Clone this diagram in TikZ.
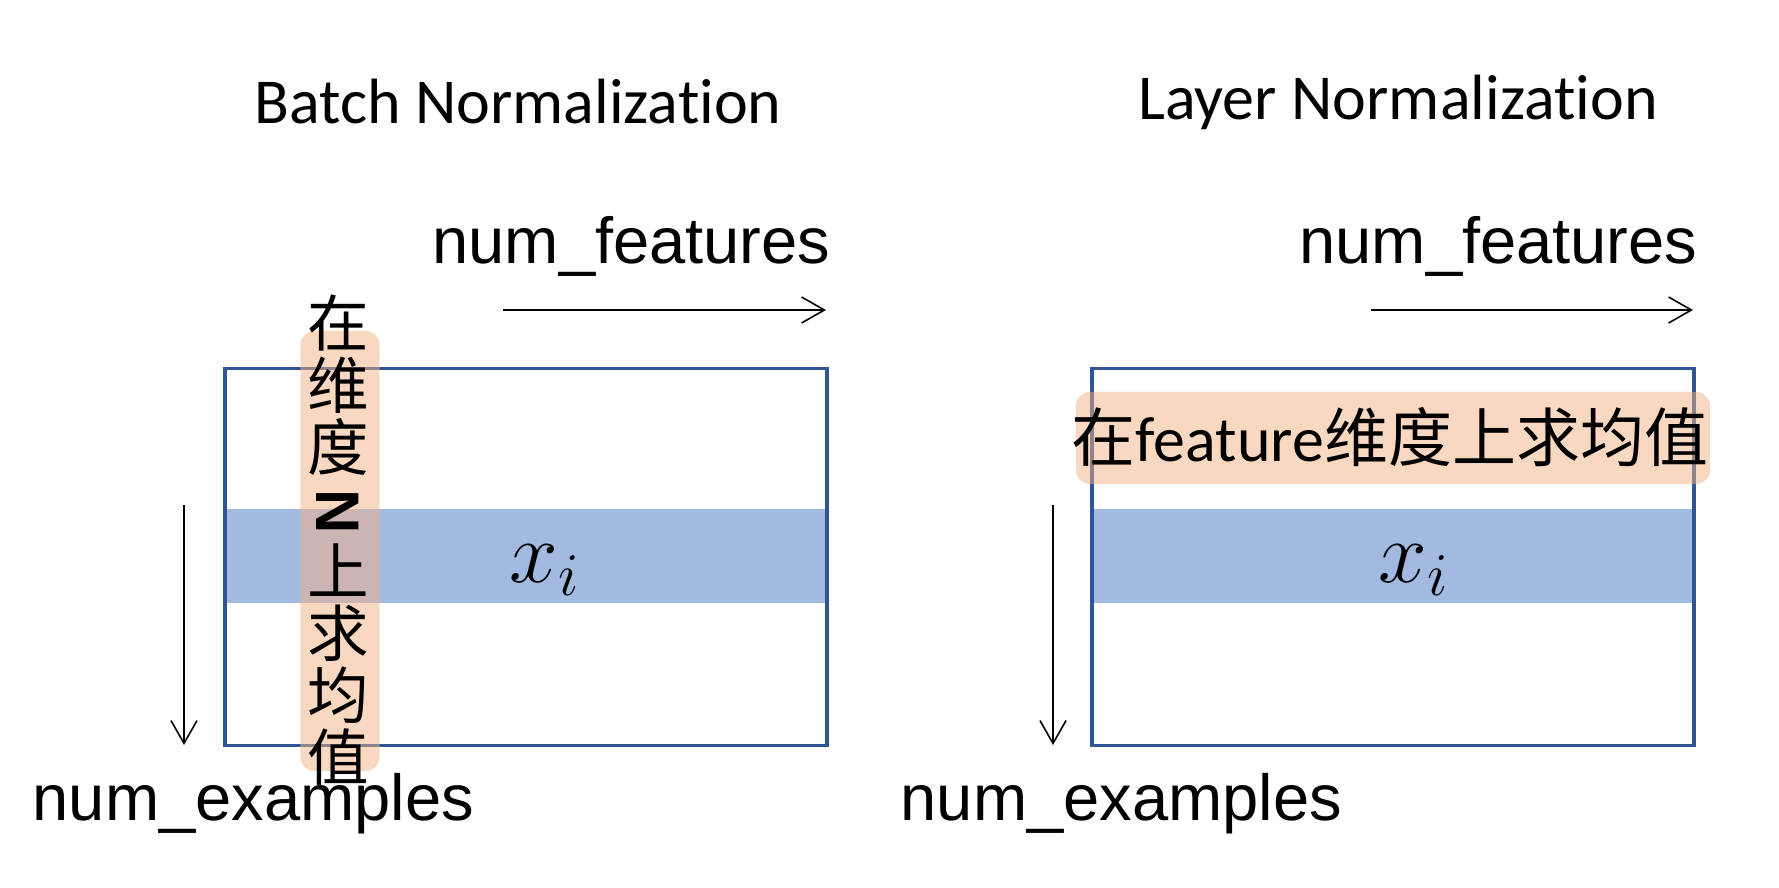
\documentclass[tikz,border=0pt]{standalone}
\usepackage{fontspec}
\setmainfont{Carlito}[Ligatures=NoCommon]
\newfontfamily\arialfont{Liberation Sans}
\newfontfamily\cjk{Noto Sans CJK SC}
\usetikzlibrary{arrows.meta}
\definecolor{boxblue}{HTML}{2F5597}
\definecolor{bandblue}{HTML}{A2B9E0}
\definecolor{hlorange}{HTML}{F4B183}

\begin{document}
\begin{tikzpicture}[x=0.01cm,y=-0.01cm,
    box/.style={draw=boxblue,line width=1pt,minimum width=6.02cm,minimum height=3.77cm,inner sep=0},
    band/.style={fill=bandblue,minimum width=6.02cm,minimum height=0.93cm,inner sep=0},
    hl/.style={fill=hlorange,fill opacity=0.5,rounded corners=4pt,inner sep=0},
    axis/.style={-{Straight Barb[length=6.5pt,width=7.4pt]},line width=0.45pt},
    lbl/.style={font=\arialfont\fontsize{18.5}{20}\selectfont,inner sep=0},
    ttl/.style={font=\fontsize{18.2}{20}\selectfont,inner sep=0}]
        \useasboundingbox (0,0) rectangle (1779,888);
        % titles
        \draw (518,102) node[ttl] (bntitle) {Batch Normalization};
        \draw (1398,102) node[ttl] (lntitle) {Layer Normalization};

        % batch normalization
        \draw (526,556) node[band] (bnband) {};
        \draw (526,557) node[box] (bnbox) {};
        \draw (340,551) node[hl,minimum width=0.79cm,minimum height=4.4cm] (bnhl) {};
        \draw (338,540) node[inner sep=0,align=center,
            font=\cjk\fontsize{17.5}{17.6}\selectfont] (bnmean)
            {在\\维\\度\\\rotatebox[origin=c]{-90}{\arialfont\bfseries N}\\上\\求\\均\\值};
        \draw (545,570) node[font=\fontsize{23}{26}\selectfont] (bnx) {$x_i$};
        \draw (831,264) node[lbl,anchor=base east] (bnfeat) {num\_features};
        \draw (32,820) node[lbl,anchor=base west] (bnex) {num\_examples};
        \coordinate (bnf1) at (503,310);
        \coordinate (bnf2) at (826,310);
        \coordinate (bne1) at (184,505);
        \coordinate (bne2) at (184,745);
        \draw[axis] (bnf1) -- (bnf2);
        \draw[axis] (bne1) -- (bne2);

        % layer normalization
        \draw (1393,556) node[band] (lnband) {};
        \draw (1393,557) node[box] (lnbox) {};
        \draw (1393,438) node[hl,minimum width=6.34cm,minimum height=0.92cm] (lnhl) {};
        \draw (1390,437) node[inner sep=0,font=\fontsize{18.2}{20}\selectfont] (lnmean)
            {{\cjk 在}feature{\cjk 维度上求均值}};
        \draw (1414,570) node[font=\fontsize{23}{26}\selectfont] (lnx) {$x_i$};
        \draw (1698,264) node[lbl,anchor=base east] (lnfeat) {num\_features};
        \draw (900,820) node[lbl,anchor=base west] (lnex) {num\_examples};
        \coordinate (lnf1) at (1371,310);
        \coordinate (lnf2) at (1693,310);
        \coordinate (lne1) at (1053,505);
        \coordinate (lne2) at (1053,745);
        \draw[axis] (lnf1) -- (lnf2);
        \draw[axis] (lne1) -- (lne2);
\end{tikzpicture}
\end{document}
